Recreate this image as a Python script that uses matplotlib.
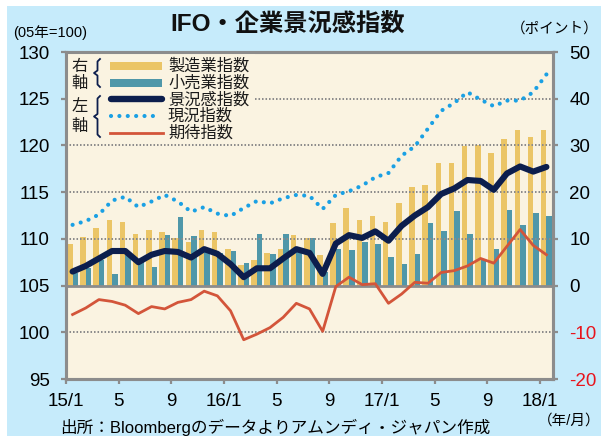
import matplotlib
matplotlib.use('Agg')
import matplotlib.pyplot as plt
from matplotlib.patches import Rectangle
from matplotlib.lines import Line2D
import numpy as np

plt.rcParams['font.family'] = ['Liberation Sans', 'Noto Sans CJK JP']

# ---------------- data (15/1 .. 18/1, monthly) ----------------
manufacturing = [8.8, 10.3, 12.4, 14.1, 13.6, 11.0, 11.9, 11.5, 10.2, 9.4,
                 11.8, 11.4, 7.8, 4.4, 5.4, 7.0, 7.9, 10.9, 10.2, 6.6,
                 13.4, 16.5, 14.1, 15.0, 13.7, 17.6, 21.1, 21.6, 26.3, 26.3,
                 29.8, 30.0, 28.3, 31.3, 33.2, 31.8, 33.2]
retail = [2.7, 3.8, 5.4, 2.5, 6.5, 5.3, 4.0, 10.9, 14.6, 10.6,
          8.1, 6.9, 7.5, 4.9, 11.1, 6.7, 11.0, 7.7, 10.1, 2.9,
          7.9, 7.6, 9.4, 9.0, 6.2, 4.7, 6.8, 13.4, 11.6, 16.0,
          11.1, 5.4, 7.8, 16.1, 13.0, 15.6, 15.0]
business_climate = [106.5, 107.1, 107.9, 108.7, 108.7, 107.5, 108.3, 108.7, 108.6, 108.0,
                    108.9, 108.4, 107.3, 105.9, 106.85, 106.85, 107.9, 108.9, 108.5, 106.25,
                    109.5, 110.4, 110.1, 110.8, 109.8, 111.4, 112.5, 113.4, 114.8, 115.4,
                    116.3, 116.2, 115.25, 117.0, 117.75, 117.2, 117.7]
current_situation = [111.5, 111.9, 112.6, 114.1, 114.5, 113.4, 114.0, 114.7, 114.0, 112.9,
                     113.4, 112.7, 112.45, 113.3, 114.05, 113.8, 114.35, 114.7, 114.6, 113.2,
                     114.7, 115.1, 115.7, 116.6, 117.05, 118.9, 119.9, 121.8, 123.7, 124.55,
                     125.7, 124.9, 124.2, 124.8, 124.8, 125.7, 127.6]
expectations = [101.9, 102.6, 103.5, 103.3, 102.9, 102.0, 102.75, 102.5, 103.2, 103.5,
                104.4, 103.9, 102.3, 99.2, 99.8, 100.5, 101.6, 103.1, 102.5, 100.1,
                104.9, 105.9, 105.1, 105.2, 103.1, 104.1, 105.35, 105.25, 106.4, 106.6,
                107.1, 107.9, 107.4, 109.2, 111.0, 109.3, 108.3]

xtick_pos = [0, 4, 8, 12, 16, 20, 24, 28, 32, 36]
xtick_labels = ['15/1', '5', '9', '16/1', '5', '9', '17/1', '5', '9', '18/1']
left_ticks = [95, 100, 105, 110, 115, 120, 125, 130]
right_ticks = [-20, -10, 0, 10, 20, 30, 40, 50]
grid_levels = [100, 110, 115, 120, 125]

legend_labels = ['製造業指数', '小売業指数', '景況感指数', '現況指数', '期待指数']

# ---------------- style ----------------
C_YEL = '#ebc566'
C_TEAL = '#4f97a9'
C_NAVY = '#0c1e4d'
C_DOT = '#1aa0e4'
C_RED = '#d3553a'
C_CREAM = '#faf3e1'
C_BLUE = '#c6ebfb'
C_GRAY = '#8c8c8c'

W, H = 601, 436
fig = plt.figure(figsize=(W / 100, H / 100), dpi=100, facecolor='white')
fig.patches.append(Rectangle((7 / W, 0), 1 - 7 / W, (H - 6) / H, transform=fig.transFigure,
                             facecolor=C_BLUE, edgecolor='none', zorder=-10))

L, R, T, B = 66, 553, 52, 379
ax = fig.add_axes([L / W, (H - B) / H, (R - L) / W, (B - T) / H])
ax2 = ax.twinx()
ax2.set_zorder(1)
ax.set_zorder(2)
ax.patch.set_visible(False)
ax2.patch.set_visible(True)
ax2.patch.set_facecolor(C_CREAM)

x = np.arange(len(manufacturing)) + 0.5
w = 0.42

# bars (right axis)
ax2.set_ylim(-20, 50)
ax2.bar(x - w, manufacturing, width=w, align='edge', color=C_YEL, zorder=2)
ax2.bar(x, retail, width=w, align='edge', color=C_TEAL, zorder=2)
ax2.axhline(0, color=C_GRAY, lw=2.0, zorder=3)
ax2.set_yticks(right_ticks)
ax2.set_yticklabels([str(v) for v in right_ticks])
for lab, v in zip(ax2.get_yticklabels(), right_ticks):
    lab.set_color('#e8141c' if v < 0 else 'black')

# gridlines and lines (left axis)
ax.set_ylim(95, 130)
for v in grid_levels:
    ax.axhline(v, color='#8a8a8a', lw=1.4, ls=(0, (0.8, 1.0)), zorder=0.5)
ax.plot(x, current_situation, color=C_DOT, lw=3.0, ls=(0, (0.01, 2.0)),
        dash_capstyle='round', zorder=3)
ax.plot(x, expectations, color=C_RED, lw=2.0, zorder=4, solid_joinstyle='round')
ax.plot(x, business_climate, color=C_NAVY, lw=4.4, zorder=5,
        solid_joinstyle='round', solid_capstyle='round')
ax.set_yticks(left_ticks)
ax.set_xlim(0, 37)
ax.set_xticks(xtick_pos)
ax.set_xticklabels(xtick_labels)

for a in (ax, ax2):
    for s in a.spines.values():
        s.set_color(C_GRAY)
        s.set_linewidth(2.2)
        s.set_zorder(10)
ax.tick_params(axis='y', which='both', direction='out', length=3.8, width=1.6,
               color=C_GRAY, labelsize=13.5, pad=8, right=False)
ax2.tick_params(axis='y', which='both', direction='out', length=3.8, width=1.6,
                color=C_GRAY, labelsize=13.5, pad=8, left=False)
ax.tick_params(axis='x', direction='out', length=3.8, width=1.6, color=C_GRAY,
               labelsize=13.5, pad=6)

# ---------------- legend (drawn inside plot) ----------------
def P(px, py):
    return ((px - L) / (R - L), (B - py) / (B - T))

ax.add_patch(Rectangle(P(67.5, 141), (255 - 67.5) / (R - L), (141 - 53.5) / (B - T),
                       transform=ax.transAxes, facecolor=C_CREAM, edgecolor='none',
                       zorder=6, clip_on=False))

def hline(x0, x1, y, **kw):
    (a0, b0), (a1, b1) = P(x0, y), P(x1, y)
    ax.add_line(Line2D([a0, a1], [b0, b1], transform=ax.transAxes, clip_on=False, zorder=7, **kw))

ax.add_patch(Rectangle(P(110, 70.5), 52 / (R - L), 8.5 / (B - T), transform=ax.transAxes,
                       facecolor=C_YEL, edgecolor='none', zorder=7, clip_on=False))
ax.add_patch(Rectangle(P(110, 87.5), 52 / (R - L), 8.5 / (B - T), transform=ax.transAxes,
                       facecolor=C_TEAL, edgecolor='none', zorder=7, clip_on=False))
hline(111, 162, 99.5, color=C_NAVY, lw=4.6, solid_capstyle='round')
hline(111, 157, 116, color=C_DOT, lw=3.0, ls=(0, (0.01, 2.0)), dash_capstyle='round')
hline(110, 163, 133, color=C_RED, lw=2.0)

for lab, ly in zip(legend_labels, [66, 83, 99.5, 116, 133]):
    ax.text(*P(168, ly), lab, transform=ax.transAxes, ha='left', va='center',
            fontsize=11.7, color='#1a1a1a', zorder=8)

for ch, ly in zip(['右', '軸', '左', '軸'], [66, 83.5, 106.5, 126]):
    ax.text(*P(80, ly), ch, transform=ax.transAxes, ha='center', va='center',
            fontsize=11.7, color='#1a1a1a', zorder=8)

def brace(xl, xr, yt, yb):
    ym = (yt + yb) / 2
    xm = (xl + xr) / 2 + 0.5
    pts = [(xr, yt), (xm, yt + 2.5), (xm, ym - 2.5), (xl, ym), (xm, ym + 2.5),
           (xm, yb - 2.5), (xr, yb)]
    xs, ys = zip(*[P(a, b) for a, b in pts])
    ax.add_line(Line2D(xs, ys, transform=ax.transAxes, clip_on=False, zorder=8,
                       color=C_NAVY, lw=1.3, solid_joinstyle='round'))

brace(94, 100, 59, 87)
brace(94, 100, 96, 137)

# ---------------- texts ----------------
fig.text(288 / W, 1 - 24 / H, 'IFO・企業景況感指数', ha='center', va='center',
         fontsize=17.5, fontweight='bold', color='#111111')
fig.text(13 / W, 1 - 33 / H, '(05年=100)', ha='left', va='center', fontsize=10.5)
fig.text(599 / W, 1 - 29 / H, '（ポイント）', ha='right', va='center', fontsize=10.5)
fig.text(600 / W, 1 - 421 / H, '（年/月）', ha='right', va='center', fontsize=10.5)
fig.text(60 / W, 1 - 427 / H, '出所：Bloombergのデータよりアムンディ・ジャパン作成',
         ha='left', va='center', fontsize=12)

fig.savefig('out.png', dpi=100, facecolor='white')
